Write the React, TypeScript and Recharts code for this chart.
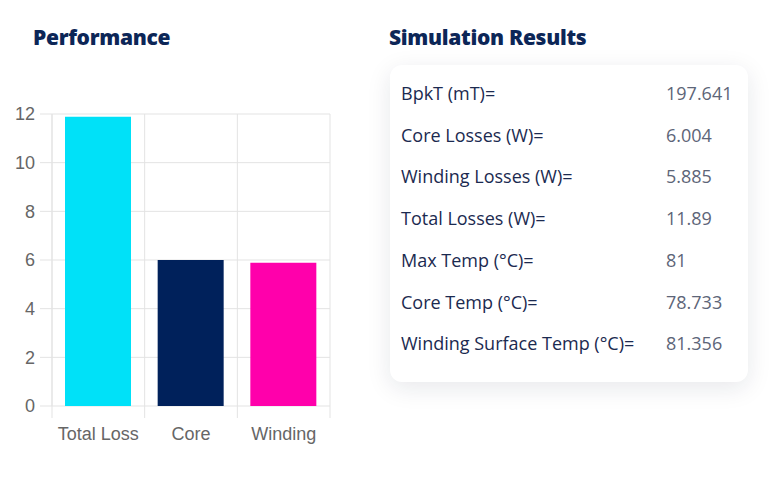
import React from "react";
import { BarChart, Bar, Cell, XAxis, YAxis, CartesianGrid } from "recharts";

const categories = ["Total Loss", "Core", "Winding"];
const lossValues = [11.89, 6.004, 5.885];
const yTicks = [0, 2, 4, 6, 8, 10, 12];

const resultLabels = [
  "BpkT (mT)=",
  "Core Losses (W)=",
  "Winding Losses (W)=",
  "Total Losses (W)=",
  "Max Temp (°C)=",
  "Core Temp (°C)=",
  "Winding Surface Temp (°C)=",
];
const resultValues = ["197.641", "6.004", "5.885", "11.89", "81", "78.733", "81.356"];

const barColors = ["#00e1f8", "#00215b", "#ff00ab"];
const gridColor = "#e3e3e3";
const navy = "#0c2657";
const tickFont = "'Liberation Sans', Arial, sans-serif";

const CHART_W = 340;
const CHART_H = 460;
const X_AXIS_H = 30;
const MARGIN = { top: 114, right: 10, bottom: CHART_H - 406 - X_AXIS_H, left: 0 };
const Y_AXIS_W = 52;
const PLOT_W = CHART_W - MARGIN.left - MARGIN.right - Y_AXIS_W;

const chartData = categories.map((name, i) => ({ name, value: lossValues[i] }));

function CategoryTick(props: any) {
  const { x, y, payload, index } = props;
  const band = PLOT_W / categories.length;
  return (
    <g>
      {index === 0 && (
        <line x1={x - band / 2} x2={x - band / 2} y1={y - 8} y2={y + 4} stroke={gridColor} />
      )}
      <line x1={x + band / 2} x2={x + band / 2} y1={y - 8} y2={y + 4} stroke={gridColor} />
      <text x={x} y={y + 26} textAnchor="middle" fill="#666" fontSize={18} fontFamily={tickFont}>
        {payload.value}
      </text>
    </g>
  );
}

export default function App() {
  const titleStyle: React.CSSProperties = {
    position: "absolute",
    top: 23,
    fontSize: 21,
    fontWeight: 800,
    color: navy,
    letterSpacing: -0.3,
  };
  return (
    <div
      style={{
        position: "fixed",
        left: 0,
        top: 0,
        width: 782,
        height: 479,
        background: "#fff",
        fontFamily: "'Open Sans', sans-serif",
      }}
    >
      <div style={{ ...titleStyle, left: 33 }}>Performance</div>
      <div style={{ position: "absolute", left: 0, top: 0 }}>
        <BarChart width={CHART_W} height={CHART_H} data={chartData} margin={MARGIN}>
          <CartesianGrid
            stroke={gridColor}
            verticalCoordinatesGenerator={({ offset }: any) =>
              categories
                .map((_, i) => offset.left + (i * offset.width) / categories.length)
                .concat(offset.left + offset.width)
            }
          />
          <XAxis
            dataKey="name"
            height={X_AXIS_H}
            axisLine={false}
            tickLine={false}
            tick={<CategoryTick />}
            interval={0}
          />
          <YAxis
            domain={[0, 12]}
            ticks={yTicks}
            width={Y_AXIS_W}
            tickSize={12}
            tickMargin={5}
            axisLine={{ stroke: gridColor }}
            tickLine={{ stroke: gridColor }}
            tick={{ fill: "#666", fontSize: 18, fontFamily: tickFont }}
          />
          <Bar dataKey="value" barSize={66} isAnimationActive={false}>
            {chartData.map((d, i) => (
              <Cell key={d.name} fill={barColors[i]} />
            ))}
          </Bar>
        </BarChart>
      </div>

      <div style={{ ...titleStyle, left: 389 }}>Simulation Results</div>
      <div
        style={{
          position: "absolute",
          left: 390,
          top: 65,
          width: 358,
          height: 317,
          borderRadius: 12,
          background: "#fff",
          boxShadow: "0 6px 24px rgba(20, 30, 60, 0.10)",
        }}
      >
        {resultLabels.map((label, i) => (
          <div
            key={label}
            style={{
              position: "absolute",
              left: 11,
              top: 15 + i * 41.7,
              height: 26,
              lineHeight: "26px",
              fontSize: 18,
              width: 345,
              whiteSpace: "nowrap",
            }}
          >
            <span style={{ color: "#1b2a50" }}>{label}</span>
            <span style={{ position: "absolute", left: 265, color: "#5d6578" }}>
              {resultValues[i]}
            </span>
          </div>
        ))}
      </div>
    </div>
  );
}
